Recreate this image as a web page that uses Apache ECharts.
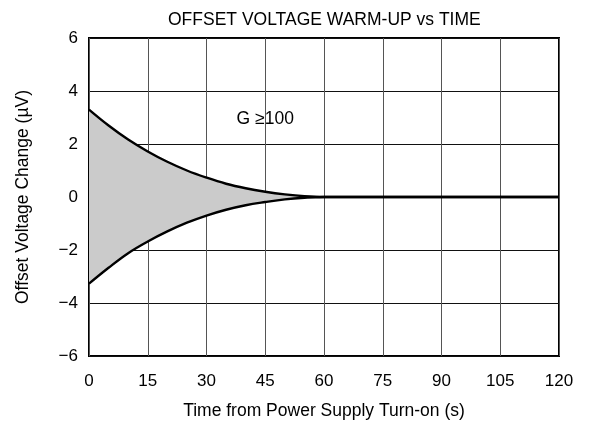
<!DOCTYPE html>
<html>
<head>
<meta charset="utf-8">
<script src="https://cdn.jsdelivr.net/npm/echarts@6/dist/echarts.min.js"></script>
<style>html,body{margin:0;padding:0;background:#fff}#c{width:594px;height:428px}</style>
</head>
<body>
<div id="c"></div>
<script>
var times = [0, 5, 10, 15, 20, 25, 30, 35, 40, 45, 50, 55, 60, 63, 120];
var upper = [3.3, 2.7, 2.17, 1.72, 1.33, 1.0, 0.73, 0.5, 0.33, 0.2, 0.1, 0.03, 0, 0, 0];
var lower = [-3.27, -2.67, -2.12, -1.68, -1.3, -0.97, -0.7, -0.48, -0.31, -0.19, -0.09, -0.03, 0, 0, 0];
var xTicks = [0, 15, 30, 45, 60, 75, 90, 105, 120];
var yTicks = [-6, -4, -2, 0, 2, 4, 6];
var font = 'Liberation Sans, Arial, sans-serif';

function pairs(a) { return times.map(function (t, i) { return [t, a[i]]; }); }

var chart = echarts.init(document.getElementById('c'));
chart.setOption({
  animation: false,
  title: {
    text: 'OFFSET VOLTAGE WARM-UP vs TIME',
    left: 163, top: 6,
    textStyle: { fontFamily: font, fontSize: 17.5, fontWeight: 'normal', color: '#000' }
  },
  grid: { left: 89, right: 35, top: 38, bottom: 72, show: true, borderColor: '#000', borderWidth: 2 },
  xAxis: {
    type: 'value', min: 0, max: 120, interval: 15,
    name: 'Time from Power Supply Turn-on (s)', nameLocation: 'middle', nameGap: 46,
    nameTextStyle: { fontFamily: font, fontSize: 17.5, color: '#000' },
    axisLine: { show: false }, axisTick: { show: false },
    axisLabel: { fontFamily: font, fontSize: 17, color: '#000', margin: 17 },
    splitLine: { show: true, lineStyle: { color: '#555', width: 1 } }
  },
  yAxis: {
    type: 'value', min: -6, max: 6, interval: 2,
    name: 'Offset Voltage Change (µV)', nameLocation: 'middle', nameGap: 57,
    nameTextStyle: { fontFamily: font, fontSize: 17.5, color: '#000' },
    axisLine: { show: false }, axisTick: { show: false },
    axisLabel: { fontFamily: font, fontSize: 17, color: '#000', margin: 11,
      formatter: function (v) { return v < 0 ? '\u2212' + Math.abs(v) : String(v); } },
    splitLine: { show: true, lineStyle: { color: '#111', width: 1 } }
  },
  series: [
    {
      type: 'line', data: pairs(upper), smooth: 0.4, showSymbol: false,
      lineStyle: { color: '#000', width: 2.4 },
      areaStyle: { color: '#cbcbcb', opacity: 1 },
      markPoint: {
        symbol: 'circle', symbolSize: 0,
        data: [{ coord: [45, 2.92], value: 'G ≥100' }],
        label: { show: true, formatter: 'G \u2265100', fontFamily: font, fontSize: 17.5, color: '#000', position: 'inside' }
      },
      z: 3
    },
    {
      type: 'line', data: pairs(lower), smooth: 0.4, showSymbol: false,
      lineStyle: { color: '#000', width: 2.4 },
      areaStyle: { color: '#cbcbcb', opacity: 1 },
      z: 3
    }
  ]
});
</script>
</body>
</html>
